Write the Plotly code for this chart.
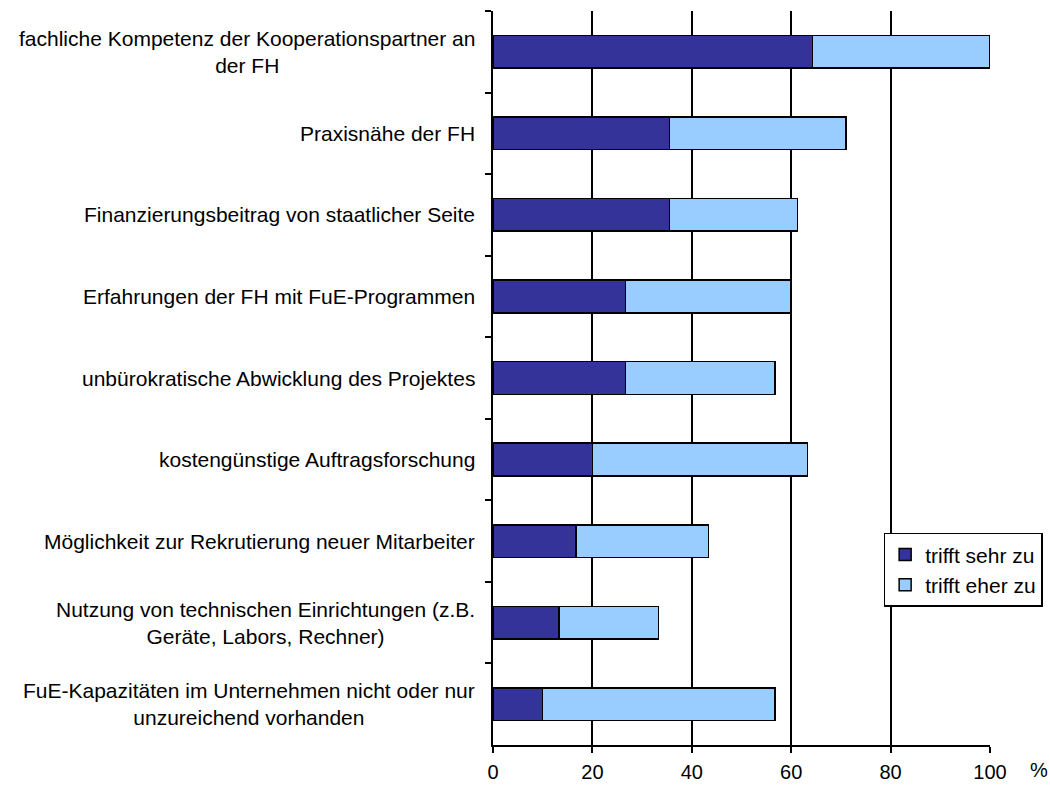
import plotly.graph_objects as go

categories = [
    "fachliche Kompetenz der Kooperationspartner an<br>der FH",
    "Praxisnähe der FH",
    "Finanzierungsbeitrag von staatlicher Seite",
    "Erfahrungen der FH mit FuE-Programmen",
    "unbürokratische Abwicklung des Projektes",
    "kostengünstige Auftragsforschung",
    "Möglichkeit zur Rekrutierung neuer Mitarbeiter",
    "Nutzung von technischen Einrichtungen (z.B.<br>Geräte, Labors, Rechner)",
    "FuE-Kapazitäten im Unternehmen nicht oder nur<br>unzureichend vorhanden",
]
sehr_zu = [64.3, 35.5, 35.5, 26.7, 26.7, 20.0, 16.7, 13.3, 10.0]
eher_zu = [35.7, 35.5, 25.8, 33.3, 30.0, 43.3, 26.7, 20.0, 46.7]
x_ticks = [0, 20, 40, 60, 80, 100]

FONT = "Liberation Sans, Arial, sans-serif"

fig = go.Figure()
fig.add_trace(go.Bar(
    y=categories, x=sehr_zu, orientation="h", name="trifft sehr zu",
    marker=dict(color="#333399", line=dict(color="black", width=1.5)),
))
fig.add_trace(go.Bar(
    y=categories, x=eher_zu, orientation="h", name="trifft eher zu",
    marker=dict(color="#99CCFF", line=dict(color="black", width=1.5)),
))

for c in categories:
    fig.add_annotation(
        x=0, xref="paper", y=c, yref="y", text=c, showarrow=False,
        xanchor="right", align="center", xshift=-16,
        font=dict(family=FONT, size=21, color="black"),
    )

fig.add_annotation(
    x=1, xref="paper", y=0, yref="paper", text="%", showarrow=False,
    xanchor="left", yanchor="top", xshift=38, yshift=-12,
    font=dict(family=FONT, size=20, color="black"),
)

fig.update_layout(
    barmode="stack",
    bargap=0.6,
    width=1050, height=785,
    margin=dict(l=493, r=60, t=11, b=40, autoexpand=False),
    plot_bgcolor="white", paper_bgcolor="white",
    font=dict(family=FONT, size=20, color="black"),
    showlegend=True,
    legend=dict(
        x=0.786, y=0.289, xanchor="left", yanchor="top",
        bordercolor="black", borderwidth=1.5, bgcolor="white",
        font=dict(family=FONT, size=21, color="black"),
        traceorder="normal", itemwidth=30, tracegroupgap=0,
    ),
    xaxis=dict(
        range=[0, 100], tickvals=x_ticks, showgrid=True, gridcolor="black",
        gridwidth=2, zeroline=False, showline=True, linecolor="black",
        linewidth=2, ticks="outside", ticklen=6, tickwidth=2, tickcolor="black",
        tickfont=dict(family=FONT, size=20, color="black"), ticklabelstandoff=2,
    ),
    yaxis=dict(
        categoryorder="array", categoryarray=categories, autorange="reversed",
        showticklabels=False, showline=True, linecolor="black", linewidth=2,
        ticks="outside", tickson="boundaries", ticklen=6, tickwidth=2,
        tickcolor="black", showgrid=False, zeroline=False,
    ),
)

fig.write_html(
    "out.html",
    config={"displayModeBar": False},
    post_script="document.body.style.margin='0';",
)
